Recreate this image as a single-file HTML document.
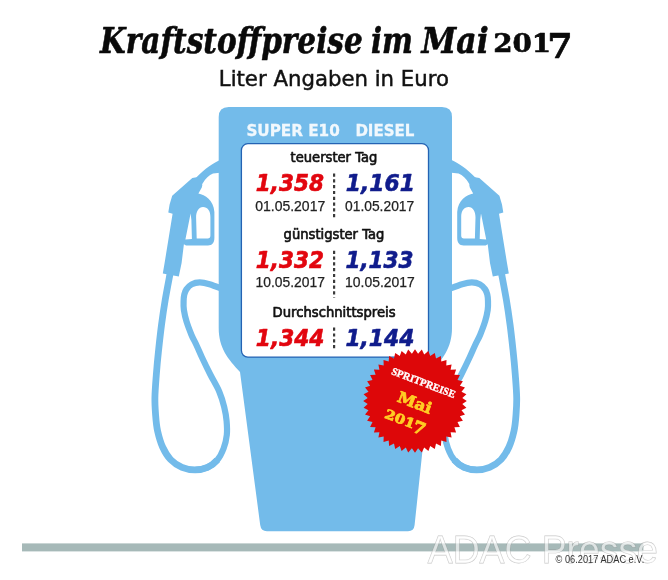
<!DOCTYPE html>
<html lang="de">
<head>
<meta charset="utf-8">
<title>Kraftstoffpreise im Mai 2017</title>
<style>
html,body{margin:0;padding:0;background:#fff;}
body{width:668px;height:580px;overflow:hidden;}
svg{display:block;font-family:"Liberation Sans",sans-serif;}
</style>
</head>
<body>
<svg width="668" height="580" viewBox="0 0 668 580">
<rect width="668" height="580" fill="#fff"/>
<!-- heading -->
<text y="52.6" font-family="'DejaVu Serif','Liberation Serif',serif" font-weight="bold" font-style="italic" font-size="35.6" fill="#0a0a0a" stroke="#0a0a0a" stroke-width="0.6" stroke-linejoin="round"><tspan x="100" textLength="262.8" lengthAdjust="spacingAndGlyphs">Kraftstoffpreise</tspan> <tspan x="371" textLength="42" lengthAdjust="spacingAndGlyphs">im</tspan> <tspan x="421.6" textLength="67" lengthAdjust="spacingAndGlyphs">Mai</tspan> <tspan x="493.2" y="52.3" font-style="normal" font-size="26" textLength="58" lengthAdjust="spacingAndGlyphs">201</tspan><tspan x="547.2" y="57.8" font-style="normal" font-size="33.5" textLength="25.5" lengthAdjust="spacingAndGlyphs">7</tspan></text>
<text x="218.8" y="86.2" font-family="'DejaVu Sans','Liberation Sans',sans-serif" font-size="21" textLength="230.2" lengthAdjust="spacingAndGlyphs" fill="#111" stroke="#111" stroke-width="0.45">Liter Angaben in Euro</text>
<!-- hoses and nozzles -->
<g fill="none" stroke="#73bbea" stroke-linecap="butt" stroke-linejoin="round">
<path d="M171.0,268.0 C170.8,269.2 170.8,269.7 169.8,275.0 C168.8,280.3 166.6,291.7 165.2,300.0 C163.8,308.3 162.6,316.7 161.5,325.0 C160.4,333.3 159.5,341.7 158.6,350.0 C157.7,358.3 156.9,367.0 156.3,375.0 C155.7,383.0 155.0,391.3 154.9,398.0 C154.8,404.7 155.2,409.5 155.6,415.0 C156.0,420.5 156.4,425.7 157.6,431.0 C158.8,436.3 160.4,442.2 162.6,447.0 C164.8,451.8 167.3,456.1 170.5,459.5 C173.7,462.9 177.9,465.6 182.0,467.3 C186.1,469.0 190.8,469.8 195.1,469.8 C199.3,469.8 203.8,468.9 207.5,467.3 C211.2,465.7 214.6,463.1 217.3,460.0" stroke-width="6.8"/>
<path d="M195.1,469.8 C199.3,469.8 203.8,468.9 207.5,467.3 C211.2,465.7 214.6,463.1 217.3,460.0 C220.0,456.9 222.0,452.7 223.6,448.5 C225.2,444.3 226.3,439.6 226.8,435.0 C227.3,430.4 227.0,425.7 226.6,421.0 C226.2,416.3 225.4,411.9 224.2,407.0 C223.0,402.1 221.6,397.1 219.3,391.7 C217.0,386.3 213.2,380.2 210.3,374.5 C207.4,368.8 204.2,362.1 201.9,357.2 C199.6,352.3 198.2,348.8 196.4,345.0 C194.7,341.2 193.0,338.6 191.4,334.7 C189.8,330.8 187.8,325.8 186.6,321.7 C185.3,317.6 184.4,313.4 183.9,310.0 C183.4,306.6 183.5,303.6 183.6,301.0 C183.7,298.4 183.8,296.4 184.3,294.5 C184.8,292.6 185.2,291.1 186.4,289.4 C187.6,287.7 189.4,285.6 191.6,284.4 C193.8,283.2 196.8,282.4 199.8,282.4 C202.8,282.4 205.8,283.1 209.5,284.2 C213.2,285.3 219.9,288.0 222.0,288.8" stroke-width="6.2"/>
<path d="M220,160 C213.5,162.8 205,168.5 196,177.8 L194,182 L200,187 L202.6,183.4 C205.5,178.6 209,175.2 213,173.5 L220,172.8 Z" fill="#73bbea" stroke="none"/>
<path d="M192.3,178 L196.5,177.2 L202.4,184.8 L201.8,187.6 L198.4,193.6 C205,194.8 213.6,200.5 214.4,212 L214.4,238 C214.4,243 212,245.4 208,245.4 L186,245.6 L183.9,244.2 L181.6,263 L178.8,276.6 L162.8,273.6 L164.6,263 L172.6,213.8 L168.3,212.6 L169.6,204.6 L172.2,195.8 Z M196.7,238.5 L196.1,217.5 C196.1,211.4 198.8,207.2 203,207.1 C207.6,207.1 210.4,210.8 210.4,217 L210.4,235.6 Q210.4,238.5 207.7,238.5 Z M190.6,213.5 L185.4,239.6 L191.9,239 L191.4,220 Z" fill="#73bbea" fill-rule="evenodd" stroke="none"/>
</g>
<g transform="translate(671.6,0) scale(-1,1)">
<g fill="none" stroke="#73bbea" stroke-linecap="butt" stroke-linejoin="round">
<path d="M171.0,268.0 C170.8,269.2 170.8,269.7 169.8,275.0 C168.8,280.3 166.6,291.7 165.2,300.0 C163.8,308.3 162.6,316.7 161.5,325.0 C160.4,333.3 159.5,341.7 158.6,350.0 C157.7,358.3 156.9,367.0 156.3,375.0 C155.7,383.0 155.0,391.3 154.9,398.0 C154.8,404.7 155.2,409.5 155.6,415.0 C156.0,420.5 156.4,425.7 157.6,431.0 C158.8,436.3 160.4,442.2 162.6,447.0 C164.8,451.8 167.3,456.1 170.5,459.5 C173.7,462.9 177.9,465.6 182.0,467.3 C186.1,469.0 190.8,469.8 195.1,469.8 C199.3,469.8 203.8,468.9 207.5,467.3 C211.2,465.7 214.6,463.1 217.3,460.0" stroke-width="6.8"/>
<path d="M195.1,469.8 C199.3,469.8 203.8,468.9 207.5,467.3 C211.2,465.7 214.6,463.1 217.3,460.0 C220.0,456.9 222.0,452.7 223.6,448.5 C225.2,444.3 226.3,439.6 226.8,435.0 C227.3,430.4 227.0,425.7 226.6,421.0 C226.2,416.3 225.4,411.9 224.2,407.0 C223.0,402.1 221.6,397.1 219.3,391.7 C217.0,386.3 213.2,380.2 210.3,374.5 C207.4,368.8 204.2,362.1 201.9,357.2 C199.6,352.3 198.2,348.8 196.4,345.0 C194.7,341.2 193.0,338.6 191.4,334.7 C189.8,330.8 187.8,325.8 186.6,321.7 C185.3,317.6 184.4,313.4 183.9,310.0 C183.4,306.6 183.5,303.6 183.6,301.0 C183.7,298.4 183.8,296.4 184.3,294.5 C184.8,292.6 185.2,291.1 186.4,289.4 C187.6,287.7 189.4,285.6 191.6,284.4 C193.8,283.2 196.8,282.4 199.8,282.4 C202.8,282.4 205.8,283.1 209.5,284.2 C213.2,285.3 219.9,288.0 222.0,288.8" stroke-width="6.2"/>
<path d="M220,160 C213.5,162.8 205,168.5 196,177.8 L194,182 L200,187 L202.6,183.4 C205.5,178.6 209,175.2 213,173.5 L220,172.8 Z" fill="#73bbea" stroke="none"/>
<path d="M192.3,178 L196.5,177.2 L202.4,184.8 L201.8,187.6 L198.4,193.6 C205,194.8 213.6,200.5 214.4,212 L214.4,238 C214.4,243 212,245.4 208,245.4 L186,245.6 L183.9,244.2 L181.6,263 L178.8,276.6 L162.8,273.6 L164.6,263 L172.6,213.8 L168.3,212.6 L169.6,204.6 L172.2,195.8 Z M196.7,238.5 L196.1,217.5 C196.1,211.4 198.8,207.2 203,207.1 C207.6,207.1 210.4,210.8 210.4,217 L210.4,235.6 Q210.4,238.5 207.7,238.5 Z M190.6,213.5 L185.4,239.6 L191.9,239 L191.4,220 Z" fill="#73bbea" fill-rule="evenodd" stroke="none"/>
</g>
</g>
<!-- pump body -->
<path d="M228.7,107 H442 Q452,107 452,117 V328 C452,348 442.6,359 430.8,372 L414.6,525 Q414,531.2 408,531.2 H267 Q261,531.2 260.2,525 L240,372 C228,359 218.7,348 218.7,328 V117 Q218.7,107 228.7,107 Z" fill="#73bbea"/>
<text x="246.4" y="135.6" font-family="'DejaVu Sans','Liberation Sans',sans-serif" font-weight="bold" font-size="15.6" textLength="93.4" lengthAdjust="spacingAndGlyphs" fill="#f1f8fd" stroke="#f1f8fd" stroke-width="0.3">SUPER E10</text>
<text x="355.4" y="135.6" font-family="'DejaVu Sans','Liberation Sans',sans-serif" font-weight="bold" font-size="15.6" textLength="59" lengthAdjust="spacingAndGlyphs" fill="#f1f8fd" stroke="#f1f8fd" stroke-width="0.3">DIESEL</text>
<!-- price panel -->
<rect x="241.4" y="143.7" width="187.1" height="213.4" rx="6.5" ry="6.5" fill="#fff" stroke="#2463b3" stroke-width="1.3"/>
<text x="290.6" y="161.7" font-family="'DejaVu Sans','Liberation Sans',sans-serif" font-size="13.6" textLength="86.8" lengthAdjust="spacingAndGlyphs" fill="#111" stroke="#111" stroke-width="0.65" stroke-linejoin="round">teuerster Tag</text>
<text x="255.8" y="190.7" font-family="'DejaVu Sans','Liberation Sans',sans-serif" font-weight="bold" font-style="italic" font-size="22.6" textLength="68.2" lengthAdjust="spacingAndGlyphs" fill="#e2060f" stroke="#e2060f" stroke-width="0.6" stroke-linejoin="round">1,358</text>
<text x="345.8" y="190.7" font-family="'DejaVu Sans','Liberation Sans',sans-serif" font-weight="bold" font-style="italic" font-size="22.6" textLength="69.2" lengthAdjust="spacingAndGlyphs" fill="#101c8c" stroke="#101c8c" stroke-width="0.6" stroke-linejoin="round">1,161</text>
<text x="255.2" y="210.5" font-size="14.5" textLength="70.0" lengthAdjust="spacingAndGlyphs" fill="#222" stroke="#222" stroke-width="0.25">01.05.2017</text>
<text x="345.0" y="210.5" font-size="14.5" textLength="69.2" lengthAdjust="spacingAndGlyphs" fill="#222" stroke="#222" stroke-width="0.25">01.05.2017</text>
<line x1="334.1" y1="173.5" x2="334.1" y2="220" stroke="#3a3a3a" stroke-width="2.2" stroke-dasharray="3.2 2.6"/>
<text x="283.6" y="238.9" font-family="'DejaVu Sans','Liberation Sans',sans-serif" font-size="13.6" textLength="100.8" lengthAdjust="spacingAndGlyphs" fill="#111" stroke="#111" stroke-width="0.65" stroke-linejoin="round">günstigster Tag</text>
<text x="255.8" y="267.8" font-family="'DejaVu Sans','Liberation Sans',sans-serif" font-weight="bold" font-style="italic" font-size="22.6" textLength="68.2" lengthAdjust="spacingAndGlyphs" fill="#e2060f" stroke="#e2060f" stroke-width="0.6" stroke-linejoin="round">1,332</text>
<text x="345.4" y="267.8" font-family="'DejaVu Sans','Liberation Sans',sans-serif" font-weight="bold" font-style="italic" font-size="22.6" textLength="68.2" lengthAdjust="spacingAndGlyphs" fill="#101c8c" stroke="#101c8c" stroke-width="0.6" stroke-linejoin="round">1,133</text>
<text x="255.6" y="287.4" font-size="14.5" textLength="69.3" lengthAdjust="spacingAndGlyphs" fill="#222" stroke="#222" stroke-width="0.25">10.05.2017</text>
<text x="345.1" y="287.4" font-size="14.5" textLength="69.7" lengthAdjust="spacingAndGlyphs" fill="#222" stroke="#222" stroke-width="0.25">10.05.2017</text>
<line x1="334.1" y1="250.7" x2="334.1" y2="297.5" stroke="#3a3a3a" stroke-width="2.2" stroke-dasharray="3.2 2.6"/>
<text x="272.6" y="316.5" font-family="'DejaVu Sans','Liberation Sans',sans-serif" font-size="13.2" textLength="123.0" lengthAdjust="spacingAndGlyphs" fill="#111" stroke="#111" stroke-width="0.65" stroke-linejoin="round">Durchschnittspreis</text>
<text x="255.8" y="346.1" font-family="'DejaVu Sans','Liberation Sans',sans-serif" font-weight="bold" font-style="italic" font-size="22.6" textLength="68.6" lengthAdjust="spacingAndGlyphs" fill="#e2060f" stroke="#e2060f" stroke-width="0.6" stroke-linejoin="round">1,344</text>
<text x="345.4" y="346.1" font-family="'DejaVu Sans','Liberation Sans',sans-serif" font-weight="bold" font-style="italic" font-size="22.6" textLength="69.0" lengthAdjust="spacingAndGlyphs" fill="#101c8c" stroke="#101c8c" stroke-width="0.6" stroke-linejoin="round">1,144</text>
<line x1="334.1" y1="327.6" x2="334.1" y2="350" stroke="#3a3a3a" stroke-width="2.2" stroke-dasharray="3.2 2.6"/>
<!-- badge -->
<polygon points="466.8,401.0 462.3,404.1 466.4,407.8 461.5,410.2 465.0,414.4 459.9,416.2 462.9,420.8 457.5,422.0 459.9,426.9 454.4,427.3 456.1,432.5 450.6,432.3 451.6,437.6 446.3,436.6 446.5,442.1 441.3,440.4 440.9,445.9 436.0,443.5 434.8,448.9 430.2,445.9 428.4,451.0 424.2,447.5 421.8,452.4 418.1,448.3 415.0,452.8 411.9,448.3 408.2,452.4 405.8,447.5 401.6,451.0 399.8,445.9 395.2,448.9 394.0,443.5 389.1,445.9 388.7,440.4 383.5,442.1 383.7,436.6 378.4,437.6 379.4,432.3 373.9,432.5 375.6,427.3 370.1,426.9 372.5,422.0 367.1,420.8 370.1,416.2 365.0,414.4 368.5,410.2 363.6,407.8 367.7,404.1 363.2,401.0 367.7,397.9 363.6,394.2 368.5,391.8 365.0,387.6 370.1,385.8 367.1,381.2 372.5,380.0 370.1,375.1 375.6,374.7 373.9,369.5 379.4,369.7 378.4,364.4 383.7,365.4 383.5,359.9 388.7,361.6 389.1,356.1 394.0,358.5 395.2,353.1 399.8,356.1 401.6,351.0 405.8,354.5 408.2,349.6 411.9,353.7 415.0,349.2 418.1,353.7 421.8,349.6 424.2,354.5 428.4,351.0 430.2,356.1 434.8,353.1 436.0,358.5 440.9,356.1 441.3,361.6 446.5,359.9 446.3,365.4 451.6,364.4 450.6,369.7 456.1,369.5 454.4,374.7 459.9,375.1 457.5,380.0 462.9,381.2 459.9,385.8 465.0,387.6 461.5,391.8 466.4,394.2 462.3,397.9" fill="#dd0709"/>
<g transform="translate(415,401) rotate(21)">
<text x="-32.4" y="-16.6" font-family="'Liberation Serif','DejaVu Serif',serif" font-weight="bold" font-size="10.6" textLength="67.6" lengthAdjust="spacingAndGlyphs" fill="#fff" stroke="#fff" stroke-width="0.35">SPRITPREISE</text>
<text x="-17.4" y="6.9" font-family="'DejaVu Serif','Liberation Serif',serif" font-weight="bold" font-size="15.4" textLength="35.6" lengthAdjust="spacingAndGlyphs" fill="#ffcd24" stroke="#ffcd24" stroke-width="0.75" stroke-linejoin="round">Mai</text>
<text font-family="'DejaVu Serif','Liberation Serif',serif" font-weight="bold" fill="#ffcd24" stroke="#ffcd24" stroke-width="0.75" stroke-linejoin="round"><tspan x="-23.4" y="26.6" font-size="13" textLength="31.4" lengthAdjust="spacingAndGlyphs">201</tspan><tspan x="7.4" y="29.6" font-size="17" textLength="12.6" lengthAdjust="spacingAndGlyphs">7</tspan></text>
</g>
<!-- footer -->
<rect x="22" y="543.4" width="621.4" height="8" fill="#a6b9b8"/>
<text x="427.8" y="563" font-size="38.4" textLength="230" lengthAdjust="spacingAndGlyphs" fill="#fff" fill-opacity="0.62" stroke="#8a8a8a" stroke-opacity="0.5" stroke-width="0.8" paint-order="stroke">ADAC Presse</text>
<text x="555.6" y="562.7" font-size="10" textLength="88.6" lengthAdjust="spacingAndGlyphs" fill="#333">© 06.2017 ADAC e.V.</text>
</svg>
</body>
</html>
